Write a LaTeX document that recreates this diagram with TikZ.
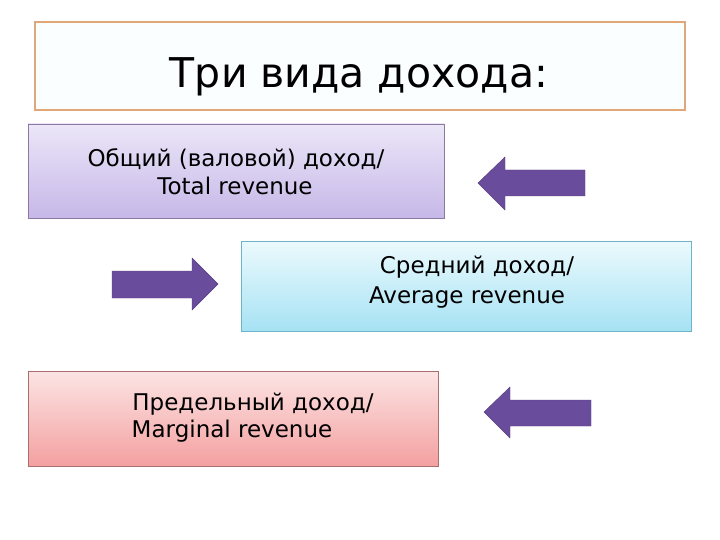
\documentclass[tikz,border=0pt]{standalone}
\usepackage{fontspec}
\setmainfont{DejaVu Sans}
\definecolor{arrowc}{HTML}{6A4C9C}
\definecolor{titleb}{HTML}{E0A878}
\definecolor{titlef}{HTML}{FBFEFF}
\definecolor{oneT}{HTML}{ECE6F8}
\definecolor{oneB}{HTML}{C6B8E8}
\definecolor{oneD}{HTML}{8C78A0}
\definecolor{twoT}{HTML}{ECFAFD}
\definecolor{twoB}{HTML}{A6E2F4}
\definecolor{twoD}{HTML}{6EB4C8}
\definecolor{thrT}{HTML}{FCE4E4}
\definecolor{thrB}{HTML}{F4A0A0}
\definecolor{thrD}{HTML}{AA6E6E}
\begin{document}
\begin{tikzpicture}[x=1pt,y=-1pt,
  box/.style={draw=#1, line width=0.8pt},
  arr/.style={fill=arrowc, draw=arrowc!80!black, line width=0.4pt},
  lbl/.style={font=\fontsize{23}{27}\selectfont, text=black, inner sep=0pt, anchor=base}]
\useasboundingbox (0,0) rectangle (720,540);
\fill[white] (0,0) rectangle (720,540);
% title
\draw[box=titleb, line width=1.2pt, fill=titlef] (35,22) rectangle (685,110);
\node[font=\fontsize{41}{48}\selectfont, inner sep=0pt, anchor=base] (title) at (359,88) {Три вида дохода:};
% box 1
\shade[top color=oneT, bottom color=oneB] (28,124) rectangle (444,218);
\draw[box=oneD] (28,124) rectangle (444,218);
\node[lbl] (t1a) at (236,167) {Общий (валовой) доход/};
\node[lbl] (t1b) at (235,195) {Total revenue};
% box 2
\shade[top color=twoT, bottom color=twoB] (241,241) rectangle (691,331);
\draw[box=twoD] (241,241) rectangle (691,331);
\node[lbl] (t2a) at (477,273) {Средний доход/};
\node[lbl] (t2b) at (467,303) {Average revenue};
% box 3
\shade[top color=thrT, bottom color=thrB] (28,371) rectangle (438,466);
\draw[box=thrD] (28,371) rectangle (438,466);
\node[lbl] (t3a) at (253,410) {Предельный доход/};
\node[lbl] (t3b) at (232,437) {Marginal revenue};
% arrows
\draw[arr] (478,183) -- (505,157) -- (505,170) -- (585,170) -- (585,196) -- (505,196) -- (505,210) -- cycle;
\draw[arr] (218,284) -- (192,258) -- (192,271) -- (112,271) -- (112,298) -- (192,298) -- (192,310) -- cycle;
\draw[arr] (484,412) -- (510,387) -- (510,400) -- (591,400) -- (591,426) -- (510,426) -- (510,438) -- cycle;
\end{tikzpicture}
\end{document}
